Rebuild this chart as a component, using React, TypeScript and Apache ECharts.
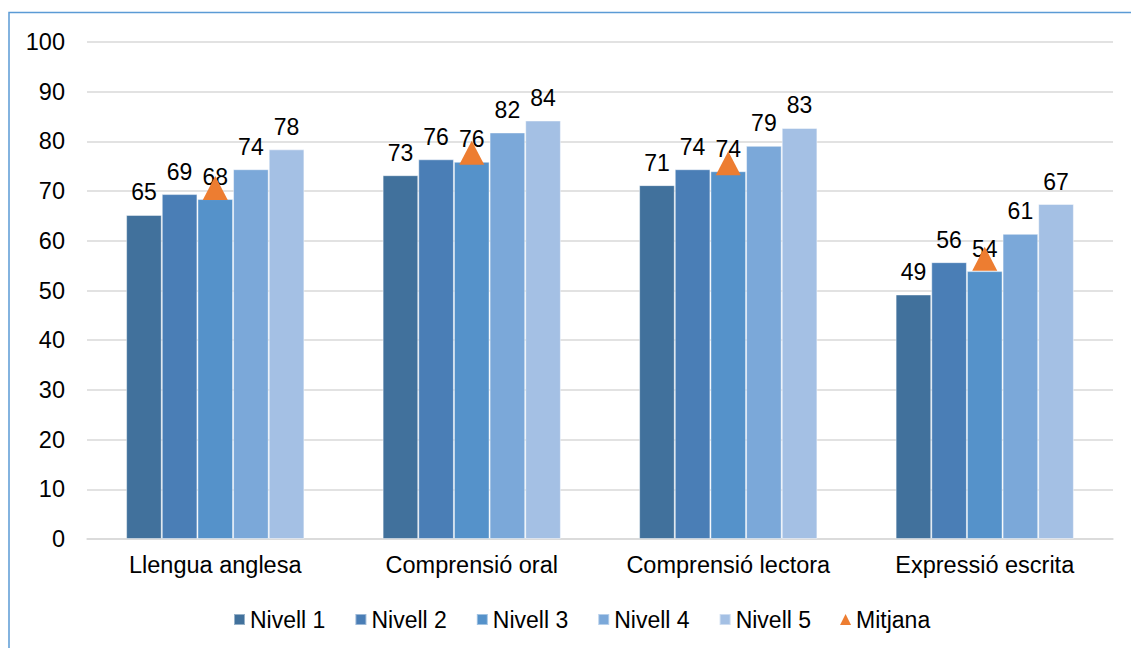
import React, { useEffect, useRef } from "react";
import * as echarts from "echarts";

const categories = ["Llengua anglesa", "Comprensió oral", "Comprensió lectora", "Expressió escrita"];
const seriesNames = ["Nivell 1", "Nivell 2", "Nivell 3", "Nivell 4", "Nivell 5"];
const nivell1 = [65.2, 73.2, 71.2, 49.2];
const nivell2 = [69.4, 76.4, 74.4, 55.7];
const nivell3 = [68.4, 75.9, 74.0, 53.9];
const nivell4 = [74.4, 81.8, 79.1, 61.4];
const nivell5 = [78.4, 84.2, 82.7, 67.4];
const mitjana = [70.6, 77.7, 75.6, 56.4];
const barColors = ["#41719C", "#4A7EB6", "#5592CA", "#7BA8D9", "#A4C0E4"];

const FONT = "'Liberation Sans', Arial, sans-serif";

export default function App() {
  const ref = useRef<HTMLDivElement>(null);
  useEffect(() => {
    if (!ref.current) return;
    const chart = echarts.init(ref.current, undefined, { renderer: "svg" });
    const levels = [nivell1, nivell2, nivell3, nivell4, nivell5];
    const bars = levels.map((d, i) => ({
      name: seriesNames[i],
      type: "bar",
      data: d,
      barGap: "0%",
      barCategoryGap: "30.5%",
      itemStyle: { color: barColors[i], borderColor: "rgba(255,255,255,0.45)", borderWidth: 1 },
      label: {
        show: true,
        position: "top",
        distance: 11,
        fontSize: 23,
        fontFamily: FONT,
        color: "#000",
        formatter: (p: any) => Math.round(p.value).toString(),
      },
    }));
    chart.setOption({
      animation: false,
      textStyle: { fontFamily: FONT },
      graphic: [
        {
          type: "rect",
          shape: { x: 9, y: 12.5, width: 1200, height: 700 },
          style: { fill: "none", stroke: "#5B9BD5", lineWidth: 1.5 },
          silent: true,
        },
      ],
      grid: { left: 87, right: 18, top: 42, bottom: 109 },
      legend: {
        top: 603,
        left: 228,
        itemWidth: 11,
        itemHeight: 11,
        itemGap: 29,
        textStyle: { fontSize: 23, fontFamily: FONT, color: "#000" },
        data: [
          ...seriesNames.map((n) => ({ name: n, icon: "rect" })),
          { name: "Mitjana", icon: "triangle" },
        ],
      },
      xAxis: {
        type: "category",
        data: categories,
        axisLine: { show: true, lineStyle: { color: "#D9D9D9", width: 1.5 } },
        axisTick: { show: false },
        axisLabel: { interval: 0, fontSize: 23.5, fontFamily: FONT, color: "#000", margin: 14 },
      },
      yAxis: {
        type: "value",
        min: 0,
        max: 100,
        interval: 10,
        axisLine: { show: false },
        axisTick: { show: false },
        axisLabel: { fontSize: 23.5, fontFamily: FONT, color: "#000", margin: 22 },
        splitLine: { lineStyle: { color: "#D9D9D9", width: 1.5 } },
      },
      series: [
        ...bars,
        {
          name: "Mitjana",
          type: "line",
          data: mitjana,
          symbol: "triangle",
          symbolSize: [25, 24],
          lineStyle: { width: 0, opacity: 0 },
          itemStyle: { color: "#ED7D31" },
          z: 5,
        },
      ],
    });
    return () => chart.dispose();
  }, []);
  return (
    <div
      ref={ref}
      style={{ position: "fixed", left: 0, top: 0, width: 1131, height: 648, background: "#fff" }}
    />
  );
}
